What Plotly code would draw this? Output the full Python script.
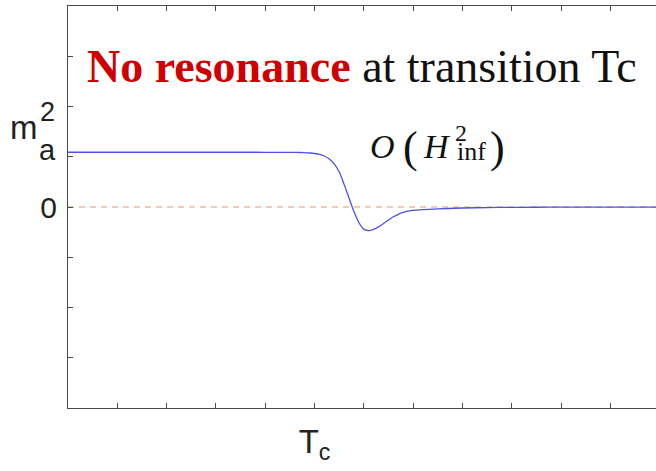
import plotly.graph_objects as go

# Axion mass squared across the transition (x in tick units, y in tick units)
temperature = [0.0, 0.5, 1.0, 1.5, 2.0, 2.5, 3.0, 3.5, 4.0, 4.5,
               4.6, 4.7, 4.8, 4.9, 5.0, 5.1, 5.2, 5.3, 5.4, 5.5, 5.6, 5.7, 5.8, 5.9,
               6.0, 6.1, 6.2, 6.3, 6.4, 6.5, 6.6, 6.7, 6.8, 6.9, 7.0,
               7.5, 8.0, 8.5, 9.0, 9.5, 10.0, 10.5, 11.0, 11.5, 12.0]
mass_sq = [1.090, 1.090, 1.090, 1.090, 1.090, 1.090, 1.090, 1.090, 1.089, 1.088,
           1.087, 1.085, 1.081, 1.075, 1.065, 1.048, 1.015, 0.955, 0.860, 0.700,
           0.450, 0.180, -0.090, -0.310,
           -0.440, -0.470, -0.445, -0.395, -0.330, -0.260, -0.195, -0.145, -0.108,
           -0.084, -0.068,
           -0.036, -0.020, -0.012, -0.007, -0.005, -0.003, -0.002, -0.002, -0.001, -0.001]

x_ticks = list(range(0, 13))
x_ticktext = ["" if t != 5 else "T<sub>c</sub>" for t in x_ticks]
y_ticks = list(range(-4, 5))
y_ticktext = ["0" if t == 0 else "" for t in y_ticks]

W, H = 656, 471
L, R, T, B = 68, 0, 6, 63
plot_w, plot_h = W - L - R, H - T - B


def px(x):
    return (x - L) / plot_w


def py(y):
    return (H - B - y) / plot_h


AXIS = "#4a4a4a"

fig = go.Figure()
fig.add_trace(go.Scatter(
    x=[0, 12], y=[0, 0], mode="lines",
    line=dict(color="rgb(232,150,110)", width=1, dash="6px,5px"),
    hoverinfo="skip", showlegend=False,
))
fig.add_trace(go.Scatter(
    x=temperature, y=mass_sq, mode="lines",
    line=dict(color="rgb(80,80,230)", width=1.3, shape="spline", smoothing=1),
    showlegend=False,
))

fig.update_layout(
    width=W, height=H,
    margin=dict(l=L, r=R, t=T, b=B, pad=0),
    paper_bgcolor="white", plot_bgcolor="white",
    font=dict(family="Liberation Sans, Arial, sans-serif", color="#222222"),
    xaxis=dict(
        range=[0, plot_w / 49.3], tickvals=x_ticks, ticktext=x_ticktext,
        ticks="inside", ticklen=5, tickcolor=AXIS, tickwidth=1,
        showline=True, linecolor=AXIS, linewidth=1, mirror="ticks",
        showgrid=False, zeroline=False,
        tickfont=dict(size=33, color="#222222"), ticklabelstandoff=4,
    ),
    yaxis=dict(
        range=[-4, 4], tickvals=y_ticks, ticktext=y_ticktext,
        ticks="inside", ticklen=5, tickcolor=AXIS, tickwidth=1,
        showline=True, linecolor=AXIS, linewidth=1, mirror=False,
        showgrid=False, zeroline=False,
        tickfont=dict(size=30, color="#222222"), ticklabelstandoff=4,
    ),
)

ann = []
# headline
ann.append(dict(
    x=px(362), y=py(66), xref="paper", yref="paper", xanchor="center", yanchor="middle",
    text="<b><span style='color:#d00000'>No resonance</span></b> at transition Tc",
    font=dict(family="Liberation Serif, serif", size=46, color="#111111"),
    showarrow=False,
))
# y-axis label m_a^2
for txt, xc, yc, size in [("m", 23.5, 127.5, 33), ("2", 47.5, 111.7, 27), ("a", 47.5, 150, 29)]:
    ann.append(dict(
        x=px(xc), y=py(yc), xref="paper", yref="paper", xanchor="center", yanchor="middle",
        text=txt, font=dict(family="Liberation Sans, Arial, sans-serif", size=size, color="#222222"),
        showarrow=False,
    ))
# order-of-magnitude note O(H_inf^2)
serif = "Liberation Serif, serif"
for txt, xc, yc, size in [("<i>O</i>", 382, 146.5, 34), ("(", 410, 147.5, 44),
                          ("<i>H</i>", 437, 146.5, 34), ("2", 461, 133.3, 24),
                          ("inf", 471, 151.5, 26), (")", 497, 147.5, 44)]:
    ann.append(dict(
        x=px(xc), y=py(yc), xref="paper", yref="paper", xanchor="center", yanchor="middle",
        text=txt, font=dict(family=serif, size=size, color="#111111"),
        showarrow=False,
    ))
fig.update_layout(annotations=ann)

fig.write_html("out.html")
